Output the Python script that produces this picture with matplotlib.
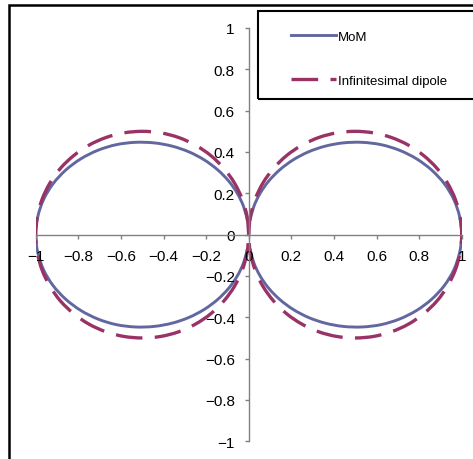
import matplotlib
matplotlib.use("Agg")
import matplotlib.pyplot as plt
import numpy as np
from matplotlib.patches import Rectangle, PathPatch
from matplotlib.path import Path
from matplotlib.lines import Line2D

plt.rcParams['font.family'] = ['Liberation Sans', 'DejaVu Sans']

# polar angle (deg) and normalised pattern
theta_deg = [0, 5, 10, 15, 20, 25, 30, 35, 40, 45, 50, 55, 60, 65, 70, 75, 80, 85, 90,
             95, 100, 105, 110, 115, 120, 125, 130, 135, 140, 145, 150, 155, 160, 165, 170, 175, 180]
r_mom = [None, 0.069, 0.138, 0.207, 0.277, 0.347, 0.418, 0.489, 0.559, 0.628, 0.695, 0.759,
         0.817, 0.869, 0.914, 0.951, 0.978, 0.994, 1.000,
         0.994, 0.978, 0.951, 0.914, 0.869, 0.817, 0.759, 0.695, 0.628, 0.559, 0.489,
         0.418, 0.347, 0.277, 0.207, 0.138, 0.069, None]
r_dipole = [0.000, 0.087, 0.174, 0.259, 0.342, 0.423, 0.500, 0.574, 0.643, 0.707, 0.766,
            0.819, 0.866, 0.906, 0.940, 0.966, 0.985, 0.996, 1.000,
            0.996, 0.985, 0.966, 0.940, 0.906, 0.866, 0.819, 0.766, 0.707, 0.643, 0.574,
            0.500, 0.423, 0.342, 0.259, 0.174, 0.087, 0.000]
ticks = [-1, -0.8, -0.6, -0.4, -0.2, 0, 0.2, 0.4, 0.6, 0.8, 1]
tick_labels = ['\u22121', '\u22120.8', '\u22120.6', '\u22120.4', '\u22120.2', '0',
               '0.2', '0.4', '0.6', '0.8', '1']

c_mom = '#62679F'
c_dip = '#993366'

W, H = 473, 460
fig = plt.figure(figsize=(W / 100, H / 100), dpi=100)
ax = fig.add_axes([35.7 / W, 1 - 442.3 / H, 426 / W, 413.3 / H])

def lobe(r, side):
    th = np.radians([t for t, v in zip(theta_deg, r) if v is not None])
    rv = np.array([v for v in r if v is not None])
    return np.column_stack([side * rv * np.sin(th), rv * np.cos(th)])

def smooth_path(pts):
    # Excel-style smoothed line: cubic bezier through the points
    p = np.vstack([pts[0], pts, pts[-1]])
    verts = [pts[0]]
    codes = [Path.MOVETO]
    for i in range(1, len(p) - 2):
        c1 = p[i] + (p[i + 1] - p[i - 1]) / 6
        c2 = p[i + 1] - (p[i + 2] - p[i]) / 6
        verts += [c1, c2, p[i + 1]]
        codes += [Path.CURVE4] * 3
    return Path(verts, codes)

dash = (0, (8, 3.7))
for side in (1, -1):
    ax.add_patch(PathPatch(smooth_path(lobe(r_mom, side)), fill=False,
                           ec=c_mom, lw=2.1))
for side in (1, -1):
    ax.add_patch(PathPatch(smooth_path(lobe(r_dipole, side)), fill=False,
                           ec=c_dip, lw=2.4, linestyle=dash))

ax.set_xlim(-1, 1)
ax.set_ylim(-1, 1)
for s in ['top', 'right']:
    ax.spines[s].set_visible(False)
ax.spines['left'].set_position(('data', 0))
ax.spines['bottom'].set_position(('data', 0))
for s in ['left', 'bottom']:
    ax.spines[s].set_color('#808080')
    ax.spines[s].set_linewidth(1)
ax.set_xticks(ticks)
ax.set_yticks(ticks)
ax.set_xticklabels(tick_labels)
ax.set_yticklabels(tick_labels)
ax.tick_params(direction='out', length=3, width=1, color='#808080',
               labelsize=11, pad=7)
ax.patch.set_alpha(0)

# chart border and legend box
fig.patches.append(Rectangle((9.3 / W, -0.2), 1.2, 1.2 - 5.7 / H,
                             transform=fig.transFigure, fill=False, lw=1.8,
                             ec='black'))
fig.patches.append(Rectangle((257.7 / W, 1 - 100 / H), 0.6, 88 / H,
                             transform=fig.transFigure, fill=False, lw=1.5,
                             ec='black'))
handles = [Line2D([], [], color=c_mom, lw=2.1),
           Line2D([], [], color=c_dip, lw=2.4, linestyle=dash)]
fig.legend(handles, ['MoM', 'Infinitesimal dipole'], loc='upper left',
           bbox_to_anchor=(279 / W, 1 - 20 / H), frameon=False, fontsize=9.5,
           handlelength=3.4, handletextpad=0.15, labelspacing=2.4)

fig.savefig('out.png', dpi=100)
